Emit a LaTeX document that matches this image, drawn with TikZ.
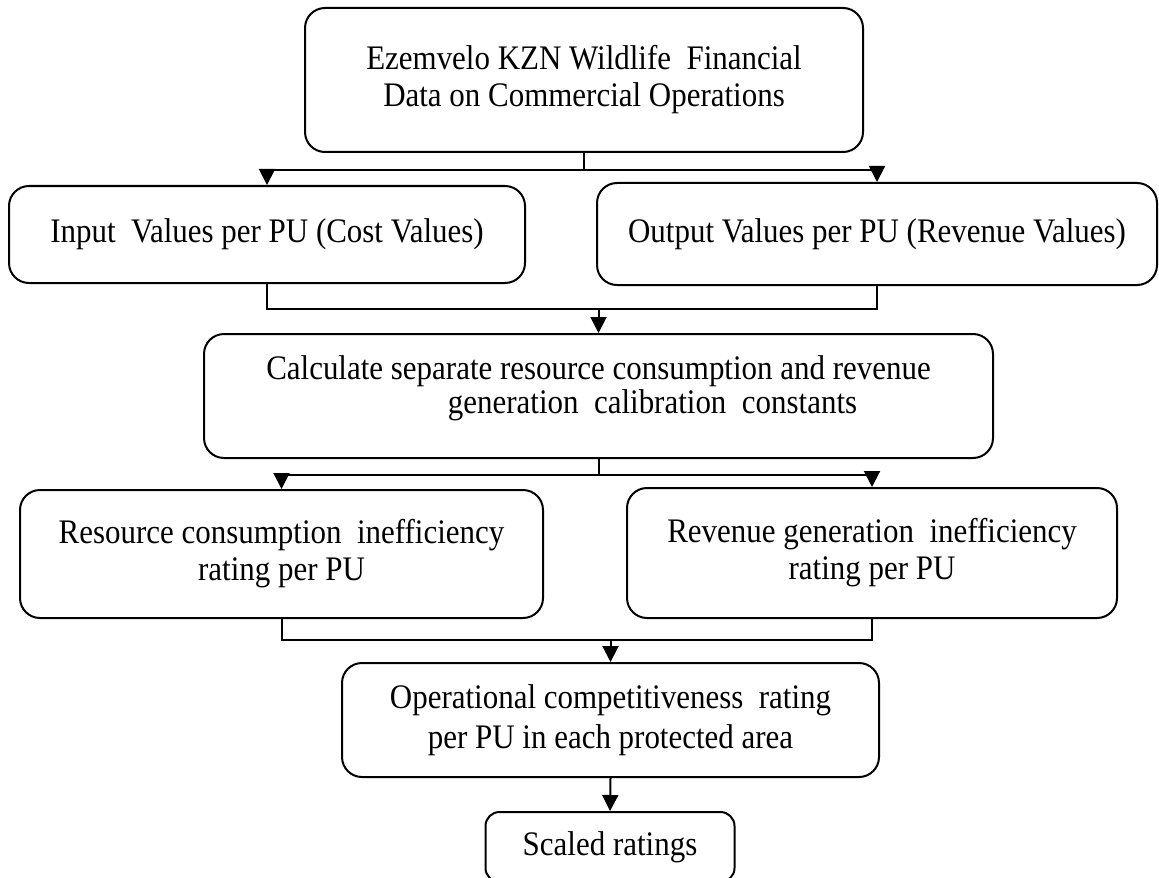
\documentclass[tikz,border=0pt]{standalone}
\usepackage{fontspec}
\setmainfont{Liberation Serif}[FakeStretch=0.9]
\usetikzlibrary{arrows.meta}
\begin{document}
\begin{tikzpicture}[
		x=0.5pt, y=-0.5pt,
		font=\fontsize{17.2}{18.5}\selectfont,
		box/.style = {shape=rectangle, draw, rounded corners=10pt,
			align=center, line width=1pt, inner sep=0pt},
		link/.style = {line width=1pt},
		flow/.style = {link, -{Triangle[length=8pt,width=8pt]}},
		]
		\useasboundingbox (0,0) rectangle (1159,877);
		
		\node[box, minimum width=279pt, minimum height=72pt] (ezemvelo) at (584,80)
			{Ezemvelo KZN Wildlife \ Financial\\Data on Commercial Operations};
		\node[box, minimum width=258pt, minimum height=48.5pt] (inputs) at (267,234.5)
			{Input \ Values per PU (Cost Values)};
		\node[box, minimum width=280pt, minimum height=51pt] (outputs) at (877,234)
			{Output Values per PU (Revenue Values)};
		\node[box, minimum width=394.5pt, minimum height=62pt] (calib) at (598.5,396)
			{Calculate separate resource consumption and revenue\\[-1.5pt]
			\hspace*{54pt}generation \ calibration \ constants\rule[-11.7pt]{0pt}{11.7pt}};
		\node[box, minimum width=261.5pt, minimum height=64pt] (consumption) at (281.5,554)
			{Resource consumption \ inefficiency\\rating per PU};
		\node[box, minimum width=245pt, minimum height=65pt] (generation) at (872,553)
			{Revenue generation \ inefficiency\\rating per PU};
		\node[box, minimum width=268.5pt, minimum height=57pt] (competitive) at (610.5,720)
			{Operational competitiveness \ rating\\[1.5pt]per PU in each protected area};
		\node[box, rounded corners=7pt, minimum width=124.5pt, minimum height=35pt] (scaled) at (610,847)
			{Scaled ratings};
		
		\coordinate (split1) at (584,170);
		\coordinate (join1) at (598.5,309);
		\coordinate (split2) at (598.5,475);
		\coordinate (join2) at (610.5,640);
		
		\draw[flow] (ezemvelo.south) -- (split1) -| (inputs.north);
		\draw[flow] (split1) -| (outputs.north);
		\draw[link] (inputs.south) |- (join1);
		\draw[link] (outputs.south) |- (join1);
		\draw[flow] (join1) -- (calib.north);
		\draw[flow] (calib.south) -- (split2) -| (consumption.north);
		\draw[flow] (split2) -| (generation.north);
		\draw[link] (consumption.south) |- (join2);
		\draw[link] (generation.south) |- (join2);
		\draw[flow] (join2) -- (competitive.north);
		\draw[flow] (competitive.south) -- (scaled.north);
		\end{tikzpicture}
\end{document}
